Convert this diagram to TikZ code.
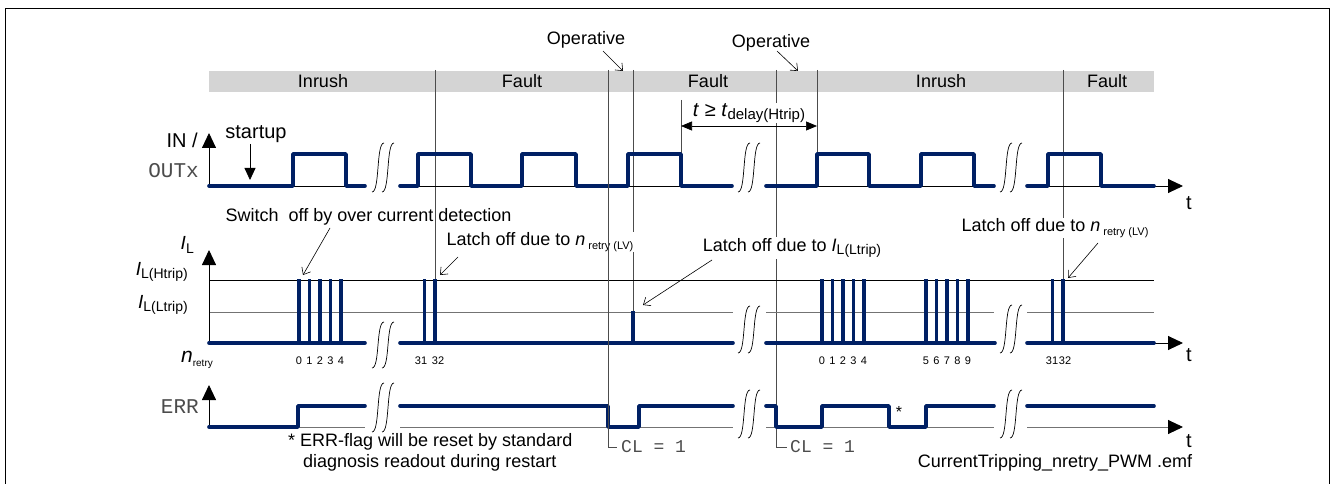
\documentclass[tikz,border=0pt]{standalone}
\usepackage{fontspec}
\setmainfont{Liberation Sans}
\setmonofont{Liberation Mono}
\usepackage{tikz}
\usetikzlibrary{arrows.meta}
\definecolor{sigblue}{RGB}{0,32,100}
\newcommand{\subtxt}[2]{\raisebox{-0.35ex}{\fontsize{#1}{#1}\selectfont #2}}

\begin{document}
\begin{tikzpicture}[
    x=1pt, y=-1pt,
    sig/.style={line width=3.6pt, draw=sigblue, line cap=round, line join=round},
    spike/.style={line width=3.4pt, draw=sigblue},
    axis/.style={-{Triangle[length=15pt, width=14pt, black]}, line width=0.9pt},
    guide/.style={draw=black!70, line width=0.8pt},
    brk/.style={line width=0.7pt},
    note/.style={-{Straight Barb[length=6pt, width=10pt]}, line width=0.6pt},
    txt/.style={font=\fontsize{18}{20}\selectfont, inner sep=1pt},
    mono/.style={font=\fontsize{21}{22}\ttfamily, text=black!70, inner sep=1pt},
    num/.style={font=\fontsize{11}{12}\selectfont, inner sep=0pt}
]
    \useasboundingbox (0,0) rectangle (1331,484);

    % Frame
    \draw[line width=1pt] (5.5,484) -- (5.5,9) -- (1329,9) -- (1329,484);

    % Phase band
    \fill[black!17] (209,71) rectangle (1154,92);
    \node[txt] (ph1) at (323,81.5) {Inrush};
    \node[txt] (ph2) at (522,81.5) {Fault};
    \node[txt] (ph3) at (708,81.5) {Fault};
    \node[txt] (ph4) at (941,81.5) {Inrush};
    \node[txt] (ph5) at (1107,81.5) {Fault};

    % Guide lines
    \draw[guide] (435,70) -- (435,345);
    \draw[guide] (633,70) -- (633,343);
    \draw[guide] (776,70) -- (776,447) -- (787,447);
    \draw[guide] (817,70) -- (817,154);
    \draw[guide] (1063,70) -- (1063,343);
    \draw[guide] (681,100) -- (681,154);

    % Operative markers
    \node[txt] (op1) at (586,40) {Operative};
    \node[txt] (op2) at (771,43) {Operative};
    \draw[note] (603,51) -- (623,71);
    \draw[note] (777,51) -- (798,71);

    % IN / OUTx axis
    \draw[line width=0.9pt] (209,186) -- (365,186) (400,186) -- (732,186) (766,186) -- (994,186);
    \draw[axis] (1027,186) -- (1183,186);
    \draw[axis] (209,186) -- (209,133);
    \node[txt, font=\fontsize{20}{22}\selectfont, anchor=east] (inlbl) at (199,140) {IN /};
    \node[mono, anchor=east] (outlbl) at (200,171) {OUTx};
    \node[txt, font=\fontsize{20}{22}\selectfont] (startup) at (256,134) {startup};
    \draw[-{Triangle[length=12pt, width=11pt]}, line width=0.8pt] (250,144) -- (250,180);
    \node[txt, font=\fontsize{20}{22}\selectfont] (t1) at (1189,203) {t};

    % OUTx signal
    \draw[sig] (209,186) -- (293,186) -- (293,154) -- (346,154) -- (346,186) -- (365,186);
    \draw[sig] (400,186) -- (418,186) -- (418,154) -- (471,154) -- (471,186) -- (522,186) -- (522,154)
        -- (576,154) -- (576,186) -- (628,186) -- (628,154) -- (681,154) -- (681,186) -- (732,186);
    \draw[sig] (766,186) -- (817,186) -- (817,154) -- (869,154) -- (869,186) -- (921,186) -- (921,154)
        -- (974,154) -- (974,186) -- (994,186);
    \draw[sig] (1027,186) -- (1048,186) -- (1048,154) -- (1101,154) -- (1101,186) -- (1154,186);

    % Delay
    \draw[{Triangle[length=11pt, width=9pt]}-{Triangle[length=11pt, width=9pt]}, line width=0.7pt] (681,126) -- (817,126);

    % Current axis
    \draw[line width=0.8pt] (209,280) -- (1154,280);
    \draw[black!55, line width=0.8pt] (209,312) -- (733,312) (766,312) -- (994,312) (1027,312) -- (1154,312);
    \draw[line width=0.9pt] (209,343) -- (365,343) (400,343) -- (733,343) (766,343) -- (995,343);
    \draw[axis] (1027,343) -- (1183,343);
    \draw[axis] (209,343) -- (209,250);
    \node[txt, font=\fontsize{19}{21}\selectfont, anchor=east] (il) at (195,245) {\textit{I}\subtxt{14}{L}};
    \node[txt, font=\fontsize{19}{21}\selectfont, anchor=east] (ilh) at (189,272) {\textit{I}\subtxt{14}{L(Htrip)}};
    \node[txt, font=\fontsize{19}{21}\selectfont, anchor=east] (ill) at (189,305) {\textit{I}\subtxt{14}{L(Ltrip)}};
    \node[txt, font=\fontsize{21}{22}\selectfont] (nr) at (197,360) {\textit{n}\subtxt{10}{retry}};
    \node[txt, font=\fontsize{20}{22}\selectfont] (t2) at (1189,355) {t};

    % Current signal
    \draw[sig] (209,343) -- (365,343);
    \draw[sig] (400,343) -- (733,343);
    \draw[sig] (766,343) -- (995,343);
    \draw[sig] (1027,343) -- (1154,343);
    \foreach \sx in {299,309.5,320,330.5,341,424.5,435,822,832.5,843,853.5,864,926,936.5,947,957.5,968,1052.5,1063}
        \draw[spike] (\sx,343) -- (\sx,278.5);
    \draw[spike] (633,343) -- (633,310.5);

    % Retry counts
    \foreach \nx/\nv in {299/0,309.5/1,320/2,330.5/3,341/4,421/31,438/32,822/0,832.5/1,843/2,853.5/3,864/4,
        926/5,936.5/6,947/7,957.5/8,968/9,1052/31,1065/32}
        \node[num] at (\nx,361) {\nv};

    % ERR axis
    \draw[black!55, line width=0.9pt] (209,427) -- (365,427) (400,427) -- (733,427) (766,427) -- (994,427);
    \draw[axis, black!55] (1027,427) -- (1183,427);
    \draw[axis] (209,427) -- (209,385);
    \node[mono, anchor=east] (errlbl) at (200,407) {ERR};
    \node[txt, font=\fontsize{20}{22}\selectfont] (t3) at (1189,441) {t};

    % ERR signal
    \draw[sig] (209,427) -- (298,427) -- (298,406) -- (365,406);
    \draw[sig] (400,406) -- (608,406) -- (608,427) -- (639,427) -- (639,406) -- (733,406);
    \draw[sig] (766,406) -- (776,406) -- (776,427) -- (822,427) -- (822,406) -- (889,406) -- (889,427)
        -- (926,427) -- (926,406) -- (994,406);
    \draw[sig] (1027,406) -- (1154,406);
    \node[txt, font=\fontsize{16}{16}\selectfont] (star) at (899,412) {*};

    % Break marks
    \foreach \bx/\bt/\bb in {372/143/192,738/143/192,1000/143/192,372/322/368,738/306/353,1000/305/353,
        372/383/432,738/390/438,1000/390/438}
        \foreach \dx in {0,10}
            \draw[brk] (\bx+\dx,\bb) .. controls (\bx+\dx+8,\bb) and (\bx+\dx+4,\bt) .. (\bx+\dx+12,\bt);

    % Annotations
    \node[txt, fill=white, inner sep=0pt] (delay) at (749,113)
        {\fontsize{20}{22}\selectfont\textit{t} ≥ \textit{t}\subtxt{15}{delay(Htrip)}};
    \node[txt] (swoff) at (368.5,217) {Switch~ off by over current detection};
    \draw[note] (330,228) -- (303,275);
    \node[txt, fill=white] (latch1) at (540,242) {Latch off due to \textit{n}\,\subtxt{11}{retry\ (LV)}};
    \draw[note] (458,257) -- (440,275);
    \node[txt, fill=white] (latch2) at (792,248) {Latch off due to \textit{I}\subtxt{14}{L(Ltrip)}};
    \draw[note] (712,260) -- (643,305);
    \node[txt, fill=white] (latch3) at (1055,228) {Latch off due to \textit{n}\,\subtxt{11}{retry\ (LV)}};
    \draw[note] (1098,243) -- (1068,278);

    % Clear lines
    \draw[guide] (608,70) -- (608,447) -- (617,447);
    \node[mono, font=\fontsize{18}{20}\ttfamily, anchor=west] (cl1) at (620,447) {CL = 1};
    \node[mono, font=\fontsize{18}{20}\ttfamily, anchor=west] (cl2) at (789,447) {CL = 1};

    % Notes
    \node[txt, anchor=west] (note1) at (287,442) {* ERR-flag will be reset by standard};
    \node[txt, anchor=west] (note2) at (302,463) {diagnosis readout during restart};
    \node[txt] (fname) at (1055,463) {CurrentTripping\_nretry\_PWM .emf};
\end{tikzpicture}
\end{document}
